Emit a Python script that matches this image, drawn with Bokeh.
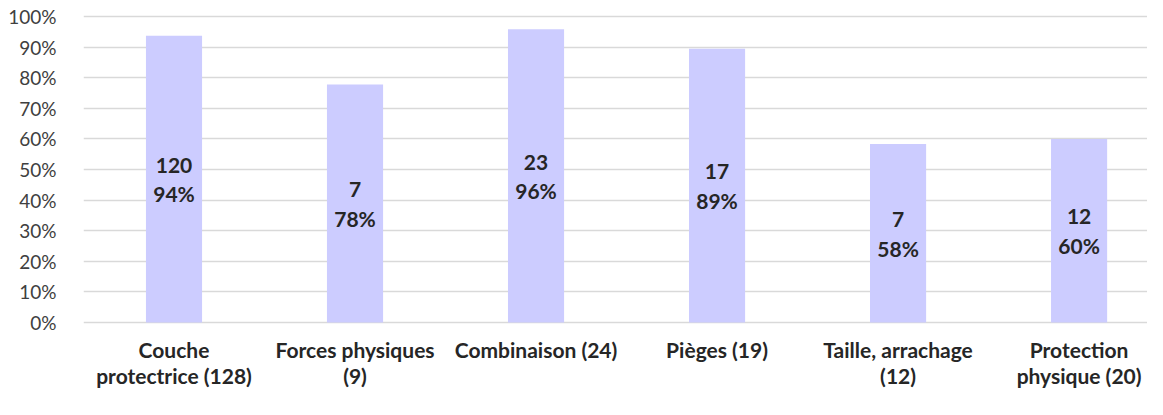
from bokeh.plotting import figure
from bokeh.models import Range1d, FixedTicker, NumeralTickFormatter, ColumnDataSource
from bokeh.embed import file_html
from bokeh.resources import INLINE
from bokeh.core.properties import value

categories = ["Couche\nprotectrice (128)", "Forces physiques\n(9)", "Combinaison (24)",
              "Pièges (19)", "Taille, arrachage\n(12)", "Protection\nphysique (20)"]
counts = [120, 7, 23, 17, 7, 12]
shares = [0.9375, 0.7778, 0.9583, 0.8947, 0.5833, 0.60]
y_ticks = [0.0, 0.1, 0.2, 0.3, 0.4, 0.5, 0.6, 0.7, 0.8, 0.9, 1.0]

FONT = "Lato"
idx = list(range(len(categories)))
src = ColumnDataSource(dict(
    x=idx,
    top=shares,
    mid=[s / 2 for s in shares],
    lab=[f"{c}\n{round(s * 100)}%" for c, s in zip(counts, shares)],
    cat=categories,
    cat_y=[-0.046] * len(categories),
))

p = figure(width=1147, height=399, output_backend="svg", toolbar_location=None,
           x_range=Range1d(-0.5, 5.378), y_range=Range1d(-0.2516, 1.0523),
           min_border_left=83, min_border_right=0, min_border_top=0, min_border_bottom=0)
p.outline_line_color = None
p.xaxis.visible = False
p.xgrid.visible = False

p.yaxis.ticker = FixedTicker(ticks=y_ticks)
p.yaxis.formatter = NumeralTickFormatter(format="0%")
p.yaxis.axis_line_color = None
p.yaxis.major_tick_line_color = None
p.yaxis.minor_tick_line_color = None
p.yaxis.major_label_standoff = 21
p.yaxis.major_label_text_font = FONT
p.yaxis.major_label_text_font_size = "19px"
p.yaxis.major_label_text_color = "#404040"
p.ygrid.ticker = FixedTicker(ticks=y_ticks)
p.ygrid.grid_line_color = "#D9D9D9"
p.ygrid.grid_line_width = 1.5

p.vbar(x="x", top="top", bottom=0, width=0.31, source=src,
       fill_color="#CCCCFF", line_color=None)

p.text(x="x", y="mid", text="lab", source=src, text_align="center",
       text_baseline="middle", text_font=value(FONT), text_font_style="bold",
       text_font_size="21px", text_color="#262626", text_line_height=1.19)

p.text(x="x", y="cat_y", text="cat", source=src, text_align="center",
       text_baseline="top", text_font=value(FONT), text_font_style="bold",
       text_font_size="21px", text_color="#262626", text_line_height=1.05)

open("out.html", "w").write(file_html(p, INLINE))
